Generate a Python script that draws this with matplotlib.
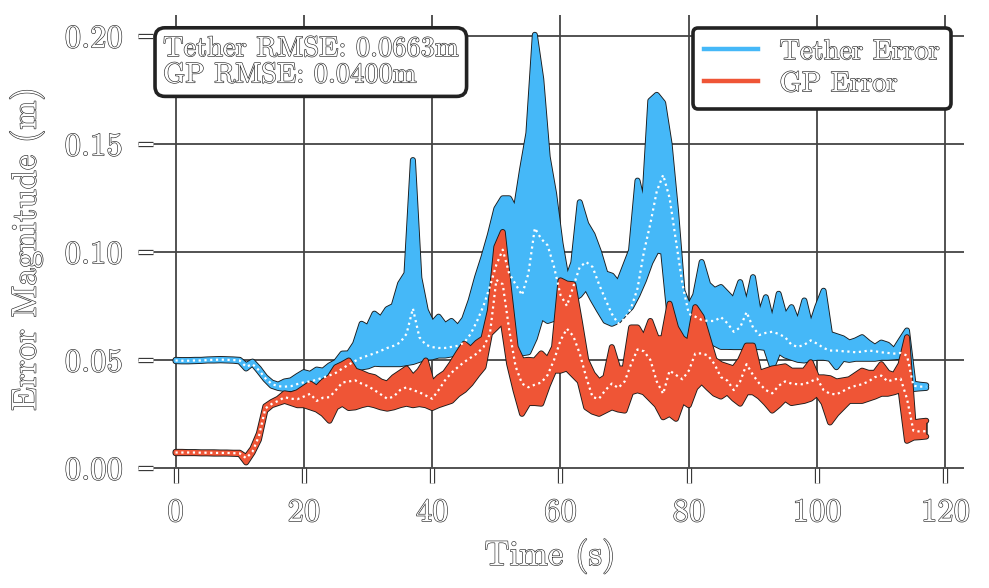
import numpy as np
import matplotlib
matplotlib.use("Agg")
import matplotlib.pyplot as plt
import matplotlib.patheffects as pe

# ---------------- data (one value per second) ----------------
seconds = np.arange(0, 118)

tether_hi = [
    .0500, .0499, .0499, .0500, .0500, .0502, .0503, .0504, .0503, .0502,
    .0500, .0475, .0492, .0460, .0420, .0395, .0385, .0400, .0405, .0425,
    .0443, .0435, .0455, .0450, .0474, .0490, .0529, .0530, .0575, .0667,
    .0650, .0714, .0690, .0735, .0750, .0853, .0900, .1425, .0880, .0730,
    .0667, .0700, .0660, .0680, .0650, .0690, .0775, .0883, .0976, .1080,
    .1200, .1248, .1248, .1190, .1380, .1550, .2005, .1800, .1440, .1270,
    .1040, .0868, .0950, .1230, .1130, .1080, .1000, .0900, .0890, .0853,
    .0930, .1007, .1330, .1200, .1700, .1727, .1690, .1500, .1190, .0820,
    .0744, .0800, .0953, .0850, .0823, .0837, .0806, .0775, .0860, .0744,
    .0883, .0698, .0790, .0667, .0806, .0698, .0744, .0667, .0775, .0651,
    .0744, .0820, .0620, .0610, .0600, .0580, .0590, .0605, .0580, .0560,
    .0580, .0570, .0543, .0590, .0636, .0390, .0385, .0382]

tether_lo = [
    .0494, .0493, .0493, .0494, .0495, .0497, .0497, .0498, .0497, .0496,
    .0493, .0460, .0484, .0448, .0410, .0380, .0370, .0365, .0365, .0370,
    .0375, .0380, .0385, .0390, .0395, .0410, .0450, .0455, .0460, .0465,
    .0470, .0482, .0480, .0480, .0480, .0480, .0485, .0490, .0500, .0510,
    .0512, .0520, .0520, .0525, .0530, .0540, .0550, .0570, .0600, .0630,
    .0700, .0750, .0600, .0540, .0530, .0535, .0600, .0700, .0680, .0690,
    .0700, .0720, .0780, .0800, .0837, .0780, .0729, .0680, .0667, .0680,
    .0713, .0744, .0800, .0868, .0950, .1007, .1000, .0700, .0630, .0605,
    .0605, .0615, .0620, .0600, .0575, .0560, .0560, .0559, .0559, .0559,
    .0559, .0559, .0555, .0466, .0540, .0520, .0510, .0500, .0497, .0505,
    .0510, .0510, .0505, .0466, .0505, .0500, .0505, .0505, .0505, .0505,
    .0510, .0510, .0512, .0515, .0466, .0365, .0368, .0370]

tether_smooth = [
    .0497, .0496, .0496, .0497, .0497, .0499, .0500, .0501, .0500, .0499,
    .0497, .0468, .0480, .0452, .0415, .0388, .0378, .0376, .0378, .0388,
    .0396, .0400, .0408, .0418, .0428, .0440, .0460, .0478, .0495, .0510,
    .0520, .0530, .0542, .0555, .0565, .0580, .0620, .0738, .0605, .0570,
    .0559, .0555, .0555, .0560, .0565, .0580, .0620, .0680, .0750, .0840,
    .0940, .1010, .0900, .0850, .0800, .0900, .1110, .1060, .1030, .0930,
    .0800, .0750, .0840, .0930, .0953, .0930, .0850, .0780, .0713, .0667,
    .0690, .0740, .0830, .1000, .1130, .1280, .1356, .1250, .1050, .0850,
    .0713, .0700, .0685, .0680, .0680, .0698, .0670, .0630, .0650, .0721,
    .0650, .0615, .0625, .0630, .0620, .0605, .0570, .0560, .0570, .0590,
    .0575, .0555, .0543, .0543, .0540, .0538, .0535, .0538, .0543, .0540,
    .0535, .0532, .0529, .0532, .0520, .0380, .0376, .0376]

gp_hi = [
    .0074, .0074, .0073, .0073, .0072, .0072, .0072, .0071, .0071, .0070,
    .0070, .0050, .0090, .0160, .0285, .0305, .0320, .0345, .0340, .0350,
    .0370, .0390, .0370, .0400, .0420, .0466, .0480, .0497, .0450, .0440,
    .0427, .0420, .0400, .0390, .0420, .0440, .0460, .0420, .0450, .0497,
    .0390, .0420, .0440, .0482, .0530, .0575, .0550, .0580, .0600, .0729,
    .1023, .1092, .0820, .0560, .0497, .0500, .0497, .0530, .0500, .0559,
    .0868, .0853, .0850, .0680, .0500, .0436, .0400, .0420, .0559, .0460,
    .0460, .0650, .0650, .0600, .0680, .0600, .0600, .0760, .0650, .0600,
    .0580, .0744, .0700, .0600, .0500, .0480, .0470, .0460, .0500, .0566,
    .0566, .0440, .0450, .0460, .0465, .0470, .0450, .0450, .0450, .0489,
    .0419, .0419, .0415, .0400, .0405, .0410, .0430, .0450, .0440, .0440,
    .0480, .0440, .0430, .0480, .0605, .0210, .0215, .0218]

gp_lo = [
    .0068, .0068, .0068, .0068, .0067, .0067, .0066, .0066, .0066, .0065,
    .0064, .0025, .0070, .0130, .0265, .0290, .0300, .0310, .0300, .0290,
    .0290, .0280, .0270, .0250, .0218, .0280, .0297, .0277, .0280, .0290,
    .0297, .0290, .0280, .0274, .0280, .0290, .0297, .0290, .0295, .0290,
    .0277, .0290, .0300, .0310, .0340, .0360, .0390, .0430, .0466, .0621,
    .0650, .0680, .0480, .0357, .0250, .0300, .0300, .0297, .0380, .0450,
    .0450, .0460, .0430, .0400, .0280, .0260, .0250, .0265, .0280, .0270,
    .0265, .0350, .0359, .0350, .0320, .0290, .0234, .0250, .0227, .0310,
    .0290, .0370, .0400, .0370, .0343, .0330, .0350, .0320, .0297, .0350,
    .0350, .0330, .0300, .0265, .0290, .0320, .0300, .0305, .0310, .0320,
    .0343, .0300, .0210, .0250, .0280, .0310, .0310, .0310, .0320, .0330,
    .0343, .0343, .0350, .0360, .0125, .0140, .0142, .0145]

gp_smooth = [
    .0071, .0071, .0071, .0071, .0070, .0070, .0069, .0069, .0069, .0068,
    .0067, .0045, .0075, .0147, .0275, .0296, .0310, .0327, .0320, .0318,
    .0330, .0343, .0310, .0325, .0327, .0360, .0395, .0400, .0405, .0390,
    .0378, .0360, .0340, .0320, .0330, .0360, .0373, .0360, .0350, .0335,
    .0320, .0360, .0405, .0440, .0466, .0490, .0510, .0530, .0559, .0620,
    .0870, .0850, .0640, .0470, .0390, .0373, .0385, .0395, .0430, .0500,
    .0590, .0644, .0610, .0529, .0420, .0327, .0320, .0360, .0390, .0370,
    .0400, .0480, .0548, .0540, .0500, .0400, .0343, .0450, .0430, .0410,
    .0450, .0529, .0530, .0520, .0480, .0420, .0404, .0360, .0400, .0480,
    .0430, .0390, .0360, .0345, .0380, .0400, .0390, .0387, .0387, .0400,
    .0413, .0360, .0343, .0340, .0355, .0370, .0380, .0387, .0400, .0420,
    .0427, .0400, .0410, .0413, .0320, .0172, .0168, .0170]

x_ticks = [0, 20, 40, 60, 80, 100, 120]
x_tick_labels = ["0", "20", "40", "60", "80", "100", "120"]
y_ticks = [0.00, 0.05, 0.10, 0.15, 0.20]
y_tick_labels = ["0.00", "0.05", "0.10", "0.15", "0.20"]
series_names = ["Tether Error", "GP Error"]
rmse_text = "Tether RMSE: 0.0663m\nGP RMSE: 0.0400m"
x_label = "Time (s)"
y_label = "Error Magnitude (m)"

# ---------------- styling ----------------
BLUE = "#45B8F8"
RED = "#EF5536"
EDGE = "#1a1a1a"
FONT = "cmr10"
hollow = [pe.Stroke(linewidth=0.9, foreground="#2a2a2a"), pe.Normal()]

plt.rcParams["font.family"] = [FONT, "DejaVu Serif"]
plt.rcParams["axes.formatter.use_mathtext"] = True

fig = plt.figure(figsize=(9.89, 5.88), dpi=100)
ax = fig.add_axes([0.1395, 0.179, 0.835, 0.796])


def noisy_band(hi, lo, col, z):
    # dark outline layer
    for arr in (hi, lo):
        ax.plot(seconds, arr, color=EDGE, lw=4.3, zorder=z,
                solid_joinstyle="round", solid_capstyle="round")
    ax.fill_between(seconds, lo, hi, facecolor=EDGE, edgecolor=EDGE,
                    lw=1.4, zorder=z)
    # colour layer
    for arr in (hi, lo):
        ax.plot(seconds, arr, color=col, lw=3.0, zorder=z + 0.05,
                solid_joinstyle="round", solid_capstyle="round")
    ax.fill_between(seconds, lo, hi, facecolor=col, edgecolor="none",
                    lw=0, zorder=z + 0.05)


noisy_band(tether_hi, tether_lo, BLUE, 2.0)
noisy_band(gp_hi, gp_lo, RED, 2.2)

for sm in [tether_smooth, gp_smooth]:
    ax.plot(seconds, sm, color="white", lw=1.6, ls=(0, (1, 1.6)), zorder=4)

# legend proxies
h1, = ax.plot([], [], color=BLUE, lw=3.2)
h2, = ax.plot([], [], color=RED, lw=3.2)

ax.set_xlim(-5.85, 122.85)
ax.set_ylim(-0.0069, 0.2098)
ax.set_xticks(x_ticks, labels=x_tick_labels)
ax.set_yticks(y_ticks, labels=y_tick_labels)

for s in ax.spines.values():
    s.set_visible(False)

ax.set_axisbelow(True)
ax.grid(True, color="#444444", lw=1.3)
ax.tick_params(direction="in", length=11, width=2.2, color="white",
               labelsize=23.5, pad=11, labelcolor="white")
for tk in ax.xaxis.get_major_ticks() + ax.yaxis.get_major_ticks():
    tk.tick1line.set_path_effects([pe.Stroke(linewidth=3.8, foreground="#333333"), pe.Normal()])
for lbl in ax.get_xticklabels() + ax.get_yticklabels():
    lbl.set_path_effects(hollow)

ax.set_xlabel(x_label, fontsize=25, color="white", path_effects=hollow)
ax.set_ylabel(y_label, fontsize=25, color="white", path_effects=hollow)
ax.xaxis.set_label_coords(0.499, -0.118)
ax.yaxis.set_label_coords(-0.113, 0.5)

ax.text(0.0303, 0.955, rmse_text, transform=ax.transAxes, ha="left", va="top",
        fontsize=20.5, color="white", path_effects=hollow, linespacing=1.0, zorder=6,
        bbox=dict(boxstyle="round,pad=0.28,rounding_size=0.35", fc="white",
                  ec="#222222", lw=2.6))

leg = ax.legend([h1, h2], series_names, loc="upper right", fontsize=20.5,
                handlelength=1.9, handletextpad=0.75, labelspacing=0.2,
                borderpad=0.4, borderaxespad=0.45, fancybox=True, framealpha=1.0)
leg.get_frame().set_edgecolor("#222222")
leg.get_frame().set_linewidth(2.6)
leg.set_zorder(6)
for txt in leg.get_texts():
    txt.set_color("white")
    txt.set_path_effects(hollow)

fig.savefig("out.png", dpi=100)
